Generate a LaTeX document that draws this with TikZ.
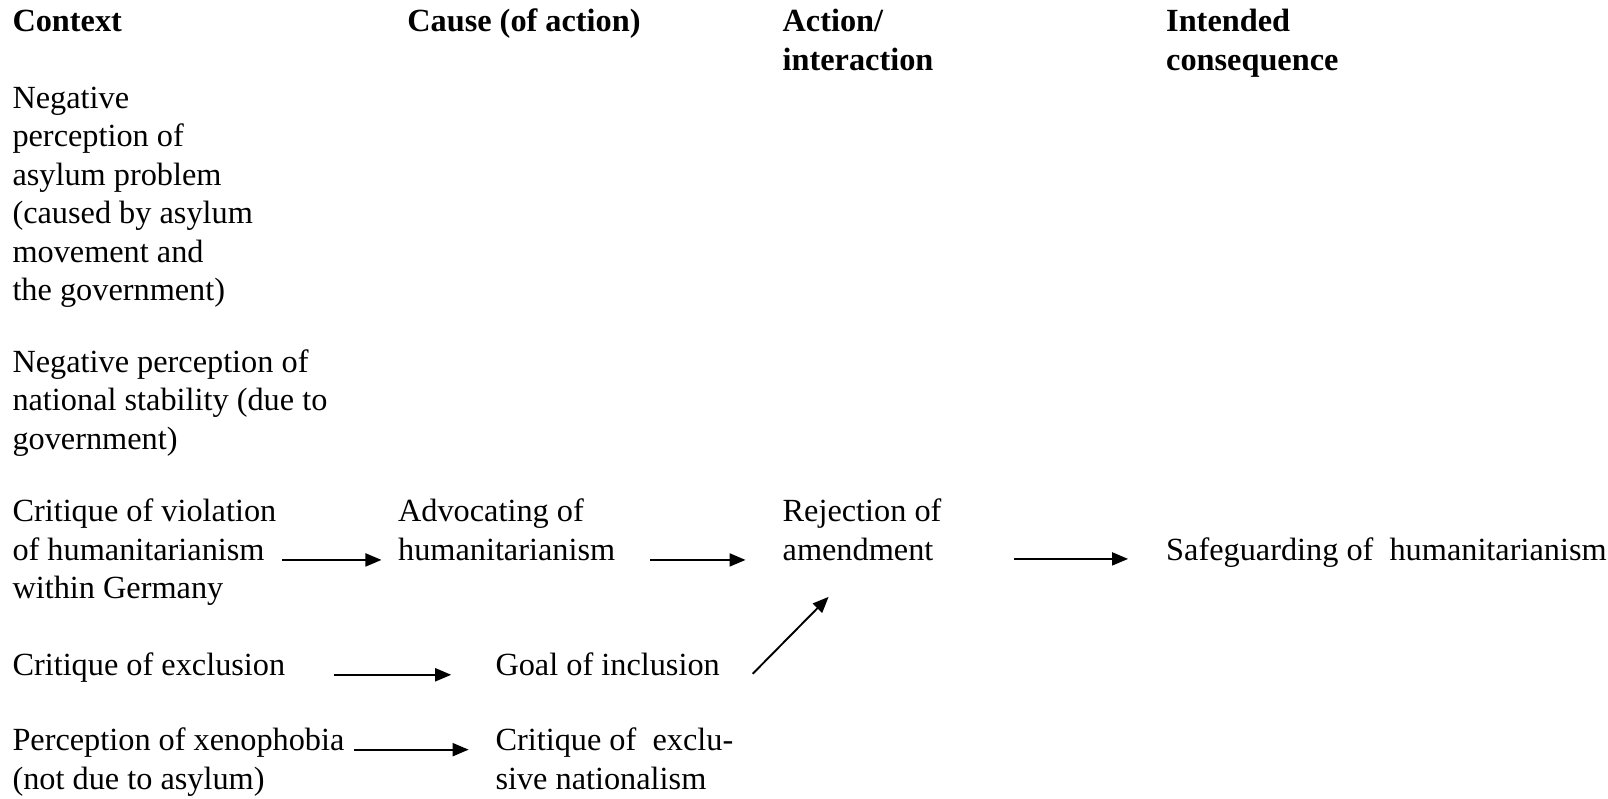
\documentclass[tikz,border=0pt]{standalone}
\usepackage{fontspec}
\setmainfont{Liberation Serif}
\usetikzlibrary{arrows.meta}
\begin{document}
\begin{tikzpicture}[x=1.0255pt,y=-1.0255pt,
  % nodes are placed by the baseline of their last line
  lbl/.style={anchor=base west,inner sep=0pt,align=left,font=\fontsize{32.3}{38.5}\selectfont},
  head/.style={lbl,font=\fontsize{32.3}{38.5}\selectfont\bfseries},
  arr/.style={line width=1.9pt,-{Triangle[length=16pt,width=13pt]}}]
\useasboundingbox (0,0) rectangle (1568,779);

% column headings
\node[head] (hctx)   at (12,31)     {Context};
\node[head] (hcause) at (397,31)    {Cause (of action)};
\node[head] (hact)   at (763,68.5)  {Action/\\interaction};
\node[head] (hcons)  at (1137,68.5) {Intended\\consequence};

% context column
\node[lbl] (ctx1) at (12,293.5) {Negative\\perception of\\asylum problem\\(caused by asylum\\movement and\\the government)};
\node[lbl] (ctx2) at (12,438)   {Negative perception of\\national stability (due to\\government)};
\node[lbl] (ctx3) at (12,584)   {Critique of violation\\of humanitarianism\\within Germany};
\node[lbl] (ctx4) at (12,659)   {Critique of exclusion};
\node[lbl] (ctx5) at (12,769.5) {Perception of xenophobia\\(not due to asylum)};

% causes, action, consequence
\node[lbl] (adv)  at (388,546.5)  {Advocating of\\humanitarianism};
\node[lbl] (goal) at (483,659)    {Goal of inclusion};
\node[lbl] (crit) at (483,769.5)  {Critique of\ \ exclu-\\sive nationalism};
\node[lbl] (rej)  at (763,546.5)  {Rejection of\\amendment};
\node[lbl] (safe) at (1137,546.5) {Safeguarding of\ \ humanitarianism};

% arrow end points
\coordinate (a1s) at (275,546);  \coordinate (a1e) at (372,546);
\coordinate (a2s) at (634,546);  \coordinate (a2e) at (727,546);
\coordinate (a3s) at (989,545);  \coordinate (a3e) at (1100,545);
\coordinate (a4s) at (326,658);  \coordinate (a4e) at (440,658);
\coordinate (a5s) at (734,657);  \coordinate (a5e) at (808,582);
\coordinate (a6s) at (345,731);  \coordinate (a6e) at (457,731);

\draw[arr] (a1s) -- (a1e);
\draw[arr] (a2s) -- (a2e);
\draw[arr] (a3s) -- (a3e);
\draw[arr] (a4s) -- (a4e);
\draw[arr] (a5s) -- (a5e);
\draw[arr] (a6s) -- (a6e);
\end{tikzpicture}
\end{document}
